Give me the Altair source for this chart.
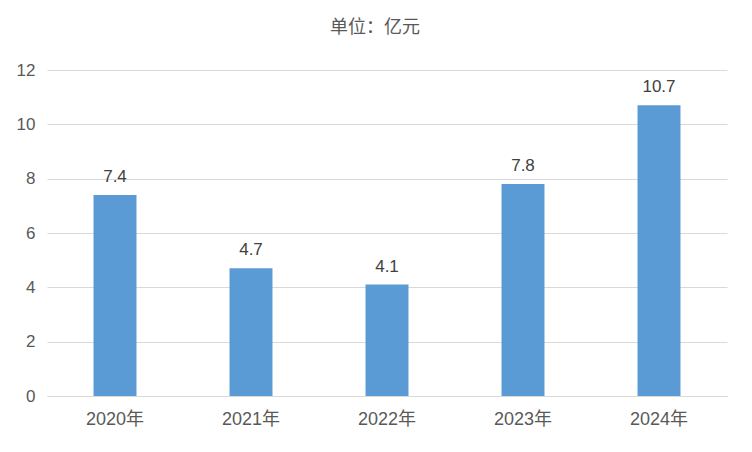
import altair as alt
import pandas as pd

years = ["2020年", "2021年", "2022年", "2023年", "2024年"]
values = [7.4, 4.7, 4.1, 7.8, 10.7]
labels = ["7.4", "4.7", "4.1", "7.8", "10.7"]
title_text = "单位：亿元"

df = pd.DataFrame({"year": years, "value": values, "label": labels})
FONT = "Liberation Sans, Noto Sans CJK SC, sans-serif"

x = alt.X("year:N", sort=years, title=None,
          scale=alt.Scale(paddingInner=0.684, paddingOuter=0.342),
          axis=alt.Axis(labelAngle=0, labelFontSize=18, labelColor="#595959",
                        labelFont=FONT, ticks=False, domainColor="#d9d9d9",
                        domainWidth=1, labelPadding=14))
y = alt.Y("value:Q", title=None,
          scale=alt.Scale(domain=[0, 12], nice=False),
          axis=alt.Axis(values=[0, 2, 4, 6, 8, 10, 12], labelFontSize=17,
                        labelColor="#595959", labelFont=FONT, ticks=False,
                        domain=False, gridColor="#d9d9d9", gridWidth=1,
                        labelPadding=12))

bars = alt.Chart(df).mark_bar(color="#5B9BD5").encode(x=x, y=y)
text = alt.Chart(df).mark_text(baseline="bottom", dy=-9, fontSize=17,
                               color="#404040", font=FONT).encode(
    x=alt.X("year:N", sort=years), y="value:Q", text="label:N")

title = alt.Chart(pd.DataFrame({"t": [title_text]})).mark_text(
    fontSize=18, color="#595959", font="Noto Sans CJK SC", align="center",
    baseline="middle").encode(x=alt.value(328), y=alt.value(-42), text="t:N")

chart = alt.layer(bars, text, title).properties(
    width=680, height=326,
    padding={"left": 39, "top": 62, "right": 10, "bottom": 40},
    autosize=alt.AutoSizeParams(type="none"),
).configure_view(stroke=None)

chart.save("out.html", embed_options={"renderer": "svg", "actions": False})
